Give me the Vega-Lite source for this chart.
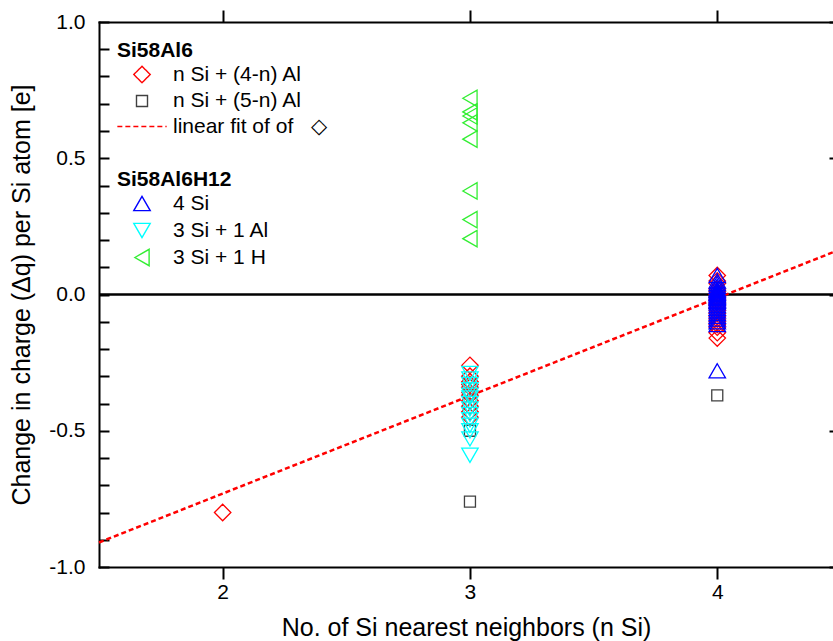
{
  "$schema": "https://vega.github.io/schema/vega-lite/v6.json",
  "width": 734,
  "height": 545,
  "autosize": {"type": "none"},
  "padding": {"left": 99, "top": 22, "right": 0, "bottom": 74},
  "background": "white",
  "config": {
    "view": {"stroke": null},
    "font": "Liberation Sans",
    "axis": {
      "domainColor": "black", "domainWidth": 2, "domainCap": "square",
      "tickColor": "black", "tickWidth": 2,
      "labelColor": "black", "labelFont": "Liberation Sans", "labelFontSize": 21,
      "titleColor": "black", "titleFont": "Liberation Sans", "titleFontSize": 25, "titleFontWeight": "normal",
      "grid": false, "labelFlush": false
    },
    "legend": {
      "orient": "none", "padding": 0, "offset": 0,
      "titleFont": "Liberation Sans", "titleFontSize": 21, "titleFontWeight": "bold", "titleColor": "black",
      "labelFont": "Liberation Sans", "labelFontSize": 21, "labelColor": "black",
      "titlePadding": 3, "rowPadding": 5, "symbolOffset": 14.5, "labelOffset": 20.5,
      "symbolStrokeWidth": 1.4, "symbolSize": 270, "symbolLimit": 0
    }
  },
  "datasets": {
    "pts": [
      {"x": 3, "y": -0.50, "s": "n Si + (5-n) Al", "g": "A"},
      {"x": 3, "y": -0.76, "s": "n Si + (5-n) Al", "g": "A"},
      {"x": 4, "y": -0.37, "s": "n Si + (5-n) Al", "g": "A"},
      {"x": 2, "y": -0.80, "s": "n Si + (4-n) Al", "g": "A"},
      {"x": 3, "y": -0.26, "s": "n Si + (4-n) Al", "g": "A"},
      {"x": 3, "y": -0.30, "s": "n Si + (4-n) Al", "g": "A"},
      {"x": 3, "y": -0.32, "s": "n Si + (4-n) Al", "g": "A"},
      {"x": 3, "y": -0.33, "s": "n Si + (4-n) Al", "g": "A"},
      {"x": 3, "y": -0.34, "s": "n Si + (4-n) Al", "g": "A"},
      {"x": 3, "y": -0.36, "s": "n Si + (4-n) Al", "g": "A"},
      {"x": 3, "y": -0.37, "s": "n Si + (4-n) Al", "g": "A"},
      {"x": 3, "y": -0.39, "s": "n Si + (4-n) Al", "g": "A"},
      {"x": 3, "y": -0.41, "s": "n Si + (4-n) Al", "g": "A"},
      {"x": 3, "y": -0.43, "s": "n Si + (4-n) Al", "g": "A"},
      {"x": 3, "y": -0.45, "s": "n Si + (4-n) Al", "g": "A"},
      {"x": 4, "y": 0.07, "s": "n Si + (4-n) Al", "g": "A"},
      {"x": 4, "y": 0.05, "s": "n Si + (4-n) Al", "g": "A"},
      {"x": 4, "y": 0.04, "s": "n Si + (4-n) Al", "g": "A"},
      {"x": 4, "y": 0.02, "s": "n Si + (4-n) Al", "g": "A"},
      {"x": 4, "y": 0.01, "s": "n Si + (4-n) Al", "g": "A"},
      {"x": 4, "y": 0.00, "s": "n Si + (4-n) Al", "g": "A"},
      {"x": 4, "y": -0.01, "s": "n Si + (4-n) Al", "g": "A"},
      {"x": 4, "y": -0.02, "s": "n Si + (4-n) Al", "g": "A"},
      {"x": 4, "y": -0.03, "s": "n Si + (4-n) Al", "g": "A"},
      {"x": 4, "y": -0.04, "s": "n Si + (4-n) Al", "g": "A"},
      {"x": 4, "y": -0.05, "s": "n Si + (4-n) Al", "g": "A"},
      {"x": 4, "y": -0.06, "s": "n Si + (4-n) Al", "g": "A"},
      {"x": 4, "y": -0.07, "s": "n Si + (4-n) Al", "g": "A"},
      {"x": 4, "y": -0.08, "s": "n Si + (4-n) Al", "g": "A"},
      {"x": 4, "y": -0.09, "s": "n Si + (4-n) Al", "g": "A"},
      {"x": 4, "y": -0.10, "s": "n Si + (4-n) Al", "g": "A"},
      {"x": 4, "y": -0.11, "s": "n Si + (4-n) Al", "g": "A"},
      {"x": 4, "y": -0.12, "s": "n Si + (4-n) Al", "g": "A"},
      {"x": 4, "y": -0.14, "s": "n Si + (4-n) Al", "g": "A"},
      {"x": 4, "y": -0.16, "s": "n Si + (4-n) Al", "g": "A"},
      {"x": 4, "y": 0.07, "s": "4 Si", "g": "B"},
      {"x": 4, "y": 0.05, "s": "4 Si", "g": "B"},
      {"x": 4, "y": 0.04, "s": "4 Si", "g": "B"},
      {"x": 4, "y": 0.03, "s": "4 Si", "g": "B"},
      {"x": 4, "y": 0.02, "s": "4 Si", "g": "B"},
      {"x": 4, "y": 0.015, "s": "4 Si", "g": "B"},
      {"x": 4, "y": 0.01, "s": "4 Si", "g": "B"},
      {"x": 4, "y": 0.005, "s": "4 Si", "g": "B"},
      {"x": 4, "y": 0.00, "s": "4 Si", "g": "B"},
      {"x": 4, "y": -0.005, "s": "4 Si", "g": "B"},
      {"x": 4, "y": -0.01, "s": "4 Si", "g": "B"},
      {"x": 4, "y": -0.015, "s": "4 Si", "g": "B"},
      {"x": 4, "y": -0.02, "s": "4 Si", "g": "B"},
      {"x": 4, "y": -0.025, "s": "4 Si", "g": "B"},
      {"x": 4, "y": -0.03, "s": "4 Si", "g": "B"},
      {"x": 4, "y": -0.04, "s": "4 Si", "g": "B"},
      {"x": 4, "y": -0.05, "s": "4 Si", "g": "B"},
      {"x": 4, "y": -0.06, "s": "4 Si", "g": "B"},
      {"x": 4, "y": -0.07, "s": "4 Si", "g": "B"},
      {"x": 4, "y": -0.08, "s": "4 Si", "g": "B"},
      {"x": 4, "y": -0.09, "s": "4 Si", "g": "B"},
      {"x": 4, "y": -0.10, "s": "4 Si", "g": "B"},
      {"x": 4, "y": -0.11, "s": "4 Si", "g": "B"},
      {"x": 4, "y": -0.28, "s": "4 Si", "g": "B"},
      {"x": 3, "y": -0.29, "s": "3 Si + 1 Al", "g": "B"},
      {"x": 3, "y": -0.31, "s": "3 Si + 1 Al", "g": "B"},
      {"x": 3, "y": -0.33, "s": "3 Si + 1 Al", "g": "B"},
      {"x": 3, "y": -0.35, "s": "3 Si + 1 Al", "g": "B"},
      {"x": 3, "y": -0.37, "s": "3 Si + 1 Al", "g": "B"},
      {"x": 3, "y": -0.38, "s": "3 Si + 1 Al", "g": "B"},
      {"x": 3, "y": -0.40, "s": "3 Si + 1 Al", "g": "B"},
      {"x": 3, "y": -0.42, "s": "3 Si + 1 Al", "g": "B"},
      {"x": 3, "y": -0.44, "s": "3 Si + 1 Al", "g": "B"},
      {"x": 3, "y": -0.46, "s": "3 Si + 1 Al", "g": "B"},
      {"x": 3, "y": -0.48, "s": "3 Si + 1 Al", "g": "B"},
      {"x": 3, "y": -0.50, "s": "3 Si + 1 Al", "g": "B"},
      {"x": 3, "y": -0.53, "s": "3 Si + 1 Al", "g": "B"},
      {"x": 3, "y": -0.59, "s": "3 Si + 1 Al", "g": "B"},
      {"x": 3, "y": 0.72, "s": "3 Si + 1 H", "g": "B"},
      {"x": 3, "y": 0.67, "s": "3 Si + 1 H", "g": "B"},
      {"x": 3, "y": 0.655, "s": "3 Si + 1 H", "g": "B"},
      {"x": 3, "y": 0.63, "s": "3 Si + 1 H", "g": "B"},
      {"x": 3, "y": 0.57, "s": "3 Si + 1 H", "g": "B"},
      {"x": 3, "y": 0.38, "s": "3 Si + 1 H", "g": "B"},
      {"x": 3, "y": 0.275, "s": "3 Si + 1 H", "g": "B"},
      {"x": 3, "y": 0.205, "s": "3 Si + 1 H", "g": "B"}
    ],
    "fit": [
      {"x": 1.5, "y": -0.91, "s": "linear fit of of"},
      {"x": 4.468, "y": 0.155, "s": "linear fit of of"}
    ]
  },
  "layer": [
    {
      "data": {"name": "fit"},
      "mark": {"type": "rule", "color": "black", "strokeWidth": 2},
      "encoding": {
        "x": {
          "datum": 1.5, "type": "quantitative",
          "scale": {"domain": [1.5, 4.468], "nice": false, "zero": false},
          "axis": {
            "orient": "bottom", "values": [2, 3, 4], "ticks": true, "tickColor": "black", "tickOpacity": 1, "tickWidth": 2,
            "tickSize": 12, "labelPadding": 2,
            "title": "No. of Si nearest neighbors (n Si)", "titlePadding": 13,
            "encode": {"ticks": {"y2": {"value": {"expr": "-12"}}}}
          }
        },
        "x2": {"datum": 4.468},
        "y": {
          "datum": 0, "type": "quantitative",
          "scale": {"domain": [-1, 1], "nice": false, "zero": false},
          "axis": {
            "orient": "left",
            "values": [-1, -0.9, -0.8, -0.7, -0.6, -0.5, -0.4, -0.3, -0.2, -0.1, 0, 0.1, 0.2, 0.3, 0.4, 0.5, 0.6, 0.7, 0.8, 0.9, 1],
            "tickSize": -10, "labelPadding": 24,
            "labelExpr": "abs(round(datum.value*10)) % 5 == 0 ? ((datum.value < -0.001 ? '-' : '') + format(abs(datum.value), '.1f')) : ''",
            "title": "Change in charge (Δq) per Si atom [e]", "titlePadding": 14,
            "encode": {"ticks": {
              "x2": {"value": {"expr": "abs(round(datum.value*10)) % 5 == 0 ? 10 : 5"}},
              "strokeWidth": {"value": {"expr": "abs(round(datum.value*10)) % 5 == 0 ? 2 : 1.5"}}
            }}
          }
        }
      }
    },
    {
      "layer": [
        {
          "data": {"name": "pts"},
          "transform": [{"filter": "datum.g == 'A'"}],
          "mark": {"type": "point", "filled": false, "strokeWidth": 1.3, "opacity": 1, "size": 270},
          "encoding": {
            "x": {"field": "x", "type": "quantitative", "scale": {"domain": [1.5, 4.468], "nice": false, "zero": false}, "axis": null},
            "y": {"field": "y", "type": "quantitative", "scale": {"domain": [-1, 1], "nice": false, "zero": false}, "axis": null},
            "color": {
              "field": "s", "type": "nominal",
              "scale": {"domain": ["n Si + (4-n) Al", "n Si + (5-n) Al", "linear fit of of"], "range": ["#ff0000", "#404040", "#ff0000"]},
              "legend": {
                "title": "Si58Al6", "orient": "none", "legendX": 18, "legendY": 18, "rowPadding": 3.5,
                "labelExpr": "datum.label == 'linear fit of of' ? 'linear fit of of \u00a0\u00a0◇' : datum.label"
              }
            },
            "shape": {
              "field": "s", "type": "nominal",
              "scale": {"domain": ["n Si + (4-n) Al", "n Si + (5-n) Al", "linear fit of of"], "range": ["diamond", "M-0.67,-0.67L0.67,-0.67L0.67,0.67L-0.67,0.67Z", "M-3,0L3,0"]},
              "legend": {"title": "Si58Al6"}
            }
          }
        },
        {
          "data": {"name": "fit"},
          "mark": {"type": "line", "strokeWidth": 2.5},
          "encoding": {
            "x": {"field": "x", "type": "quantitative", "scale": {"domain": [1.5, 4.468], "nice": false, "zero": false}, "axis": null},
            "y": {"field": "y", "type": "quantitative", "scale": {"domain": [-1, 1], "nice": false, "zero": false}, "axis": null},
            "color": {
              "field": "s", "type": "nominal",
              "scale": {"domain": ["n Si + (4-n) Al", "n Si + (5-n) Al", "linear fit of of"], "range": ["#ff0000", "#404040", "#ff0000"]},
              "legend": {"title": "Si58Al6"}
            },
            "strokeDash": {
              "field": "s", "type": "nominal",
              "scale": {"domain": ["n Si + (4-n) Al", "n Si + (5-n) Al", "linear fit of of"], "range": [[1, 0], [1, 0], [5, 3]]},
              "legend": {"title": "Si58Al6"}
            }
          }
        }
      ]
    },
    {
      "data": {"name": "pts"},
      "transform": [{"filter": "datum.g == 'B'"}],
      "mark": {"type": "point", "filled": false, "strokeWidth": 1.3, "opacity": 1, "size": 270},
      "encoding": {
        "x": {
          "field": "x", "type": "quantitative",
          "scale": {"domain": [1.5, 4.468], "nice": false, "zero": false},
          "axis": {"orient": "top", "values": [2, 3, 4], "labels": false, "title": null,
            "ticks": true, "tickColor": "black", "tickOpacity": 1, "tickWidth": 2, "tickSize": 12,
            "encode": {"ticks": {"y2": {"value": {"expr": "12"}}}}}
        },
        "y": {
          "field": "y", "type": "quantitative",
          "scale": {"domain": [-1, 1], "nice": false, "zero": false},
          "axis": {"orient": "right", "values": [-1, -0.5, 0, 0.5, 1], "labels": false, "title": null, "domain": false, "tickSize": -4}
        },
        "color": {
          "field": "s", "type": "nominal",
          "scale": {"domain": ["4 Si", "3 Si + 1 Al", "3 Si + 1 H"], "range": ["#0000ff", "#00ffff", "#33ee33"]},
          "legend": {"title": "Si58Al6H12", "orient": "none", "legendX": 18, "legendY": 147}
        },
        "shape": {
          "field": "s", "type": "nominal",
          "scale": {"domain": ["4 Si", "3 Si + 1 Al", "3 Si + 1 H"], "range": ["triangle-up", "triangle-down", "triangle-left"]},
          "legend": {"title": "Si58Al6H12"}
        }
      }
    }
  ],
  "resolve": {
    "scale": {"color": "independent", "shape": "independent", "strokeDash": "independent"},
    "axis": {"x": "independent", "y": "independent"}
  }
}
